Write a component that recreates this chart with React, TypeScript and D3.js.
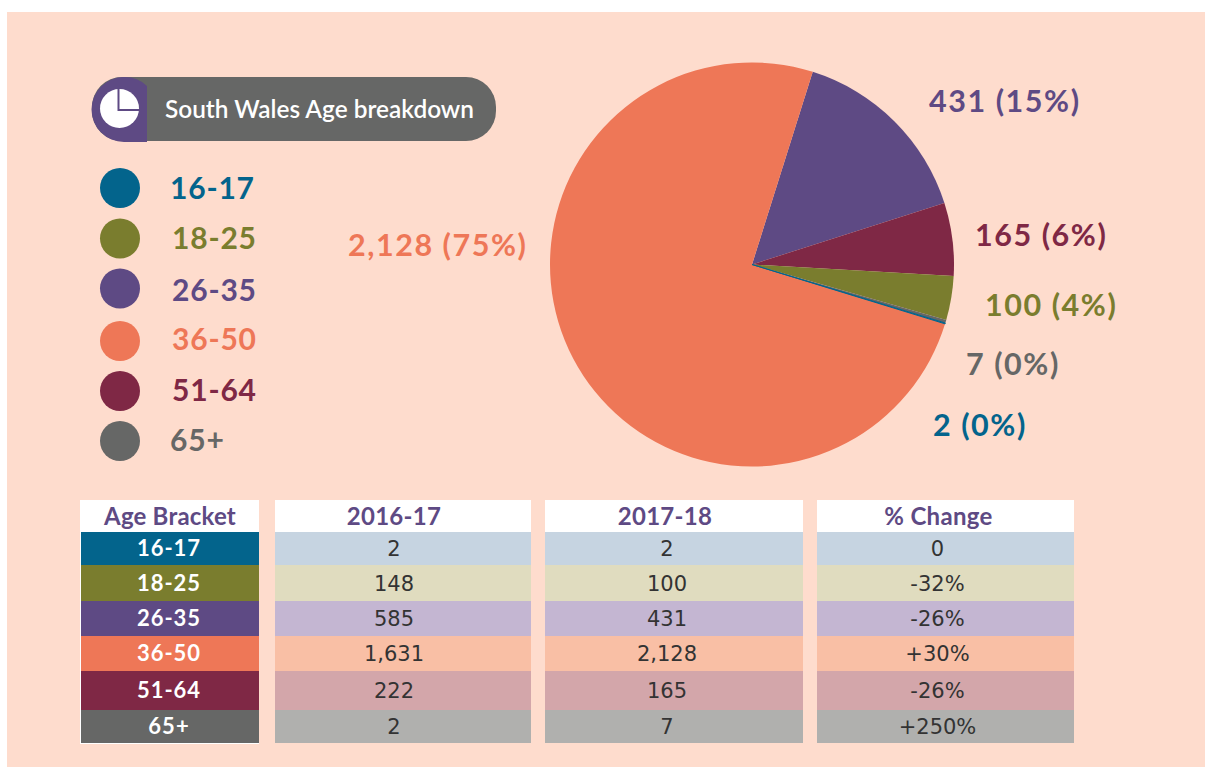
import React, { useEffect, useRef } from "react";
import * as d3 from "d3";

const WIDTH = 1205;
const HEIGHT = 767;

// legend / table order
const brackets = ["16-17", "18-25", "26-35", "36-50", "51-64", "65+"];
const colors = ["#03648c", "#7a7d2e", "#5e4a84", "#ee7757", "#7f2845", "#666766"];
const tints = ["#c6d4e1", "#e0dcbf", "#c4b6d2", "#f9bfa5", "#d3a6aa", "#b0b0ae"];
const values2016 = [2, 148, 585, 1631, 222, 2];
const values2017 = [2, 100, 431, 2128, 165, 7];
const changes = ["0", "-32%", "-26%", "+30%", "-26%", "+250%"];
const percents = ["0%", "4%", "15%", "75%", "6%", "0%"];

// pie runs clockwise in this order, starting at about 17.5deg
const pieOrder = ["26-35", "51-64", "18-25", "65+", "16-17", "36-50"];
const headers = ["Age Bracket", "2016-17", "2017-18", "% Change"];

const FONT = "Lato, 'Noto Sans', sans-serif";

const App = () => {
  const ref = useRef<SVGSVGElement | null>(null);

  useEffect(() => {
    document.body.style.margin = "0";
    const svg = d3.select(ref.current);
    svg.selectAll("*").remove();
    svg.style("font-family", FONT);

    svg.append("rect").attr("x", 7).attr("y", 12).attr("width", WIDTH - 7).attr("height", HEIGHT - 12).attr("fill", "#fedccd");

    // --- pie ---
    const pieData = pieOrder.map((b) => {
      const i = brackets.indexOf(b);
      return { bracket: b, value: values2017[i], color: colors[i] };
    });
    const start = (17.5 * Math.PI) / 180;
    const arcs = d3
      .pie<{ bracket: string; value: number; color: string }>()
      .value((d) => d.value)
      .sort(null)
      .startAngle(start)
      .endAngle(start + 2 * Math.PI)(pieData);
    const arc = d3.arc<any>().innerRadius(0).outerRadius(202);
    // the thin blue slice goes on top with a hairline so it stays visible
    const drawn = [...arcs].sort((a, b) => (a.data.bracket === "16-17" ? 1 : 0) - (b.data.bracket === "16-17" ? 1 : 0));
    svg
      .append("g")
      .attr("transform", "translate(752,264.5)")
      .selectAll("path")
      .data(drawn)
      .join("path")
      .attr("d", arc)
      .attr("fill", (d) => d.data.color)
      .attr("stroke", (d) => (d.data.bracket === "16-17" ? d.data.color : "none"))
      .attr("stroke-width", 1);

    // labels are placed by hand like the original
    const labelPos: Record<string, [number, number]> = {
      "26-35": [929, 112],
      "51-64": [975, 246],
      "18-25": [985, 316],
      "65+": [966, 375],
      "16-17": [933, 436],
      "36-50": [348, 256],
    };
    brackets.forEach((b, i) => {
      const [x, y] = labelPos[b];
      svg
        .append("text")
        .attr("x", x)
        .attr("y", y)
        .attr("font-size", 30.5)
        .attr("font-weight", 700)
        .attr("letter-spacing", 1.55)
        .attr("fill", colors[i])
        .text(`${d3.format(",")(values2017[i])} (${percents[i]})`);
    });

    // --- title pill ---
    svg.append("rect").attr("x", 92).attr("y", 77).attr("width", 404).attr("height", 64).attr("rx", 30).attr("fill", "#666766");
    svg
      .append("path")
      .attr("d", "M124,77 A32,32 0 0 1 147,86 L147,142 L124,142 A32.5,32.5 0 0 1 124,77 Z")
      .attr("fill", "#5e4a84");
    const icon = svg.append("g").attr("transform", "translate(119.5,108.5)");
    icon.append("circle").attr("r", 19.5).attr("fill", "#fff");
    icon
      .append("path")
      .attr("d", "M-1,-19.5 V1.5 H19.5")
      .attr("fill", "none")
      .attr("stroke", "#5e4a84")
      .attr("stroke-width", 2);
    svg
      .append("text")
      .attr("x", 165)
      .attr("y", 118)
      .attr("font-size", 24.4)
      .attr("font-weight", 600)
      .attr("fill", "#fff")
      .text("South Wales Age breakdown");

    // --- legend ---
    const legendY = [188, 238.5, 288.5, 341, 391, 441];
    const legendText = [199, 249, 301, 350, 401, 451];
    const legendX = [170, 172, 172, 172, 172, 170];
    brackets.forEach((b, i) => {
      svg.append("circle").attr("cx", 120).attr("cy", legendY[i]).attr("r", 20).attr("fill", colors[i]);
      svg
        .append("text")
        .attr("x", legendX[i])
        .attr("y", legendText[i])
        .attr("font-size", 30)
        .attr("font-weight", 700)
        .attr("letter-spacing", 0.8)
        .attr("fill", colors[i])
        .text(b);
    });

    // --- table ---
    const rowEdges = [532, 565, 601, 636, 671, 710, 743];
    const cols: [number, number][] = [
      [81, 259],
      [275, 531],
      [545, 803],
      [817, 1074],
    ];
    const headerShift = [0, -9, -9, -7];
    const cellShift = [-1, -9, -7, -8];
    svg.append("rect").attr("x", 80).attr("y", 500).attr("width", 179).attr("height", 244).attr("fill", "#fff");
    cols.forEach(([x0, x1], c) => {
      const cx = (x0 + x1) / 2;
      svg.append("rect").attr("x", x0).attr("y", 500).attr("width", x1 - x0).attr("height", 32).attr("fill", "#fff");
      svg
        .append("text")
        .attr("x", cx + headerShift[c])
        .attr("y", 525)
        .attr("text-anchor", "middle")
        .attr("font-size", 24)
        .attr("font-weight", 700)
        .attr("letter-spacing", c === 0 ? 0.2 : 0.3)
        .attr("fill", "#5e4a84")
        .text(headers[c]);
      brackets.forEach((b, i) => {
        const y0 = rowEdges[i];
        const y1 = rowEdges[i + 1];
        svg
          .append("rect")
          .attr("x", x0)
          .attr("y", y0)
          .attr("width", x1 - x0)
          .attr("height", y1 - y0)
          .attr("fill", c === 0 ? colors[i] : tints[i]);
        const label =
          c === 0
            ? b
            : c === 1
              ? d3.format(",")(values2016[i])
              : c === 2
                ? d3.format(",")(values2017[i])
                : changes[i];
        svg
          .append("text")
          .attr("x", cx + cellShift[c])
          .attr("y", (y0 + y1) / 2 + 7.5)
          .attr("text-anchor", "middle")
          .attr("font-size", c === 0 ? 22 : 21)
          .attr("font-weight", c === 0 ? 700 : 400)
          .attr("letter-spacing", c === 0 ? 1 : 0)
          .attr("font-family", c === 0 ? FONT : "'DejaVu Sans', sans-serif")
          .attr("fill", c === 0 ? "#fff" : "#333")
          .text(label);
      });
    });
  }, []);

  return <svg ref={ref} width={WIDTH} height={HEIGHT} style={{ display: "block" }} />;
};

export default App;
